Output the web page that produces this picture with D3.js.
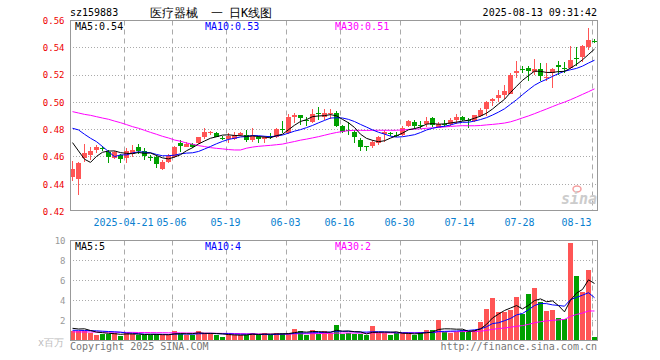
<!DOCTYPE html>
<html>
<head>
<meta charset="utf-8">
<script src="https://cdn.jsdelivr.net/npm/d3@7/dist/d3.min.js"></script>
<style>
body { margin: 0; background: #fff; }
text { font-family: "DejaVu Sans Mono", monospace; }
</style>
</head>
<body>
<svg id="chart"></svg>
<script>
var svg_width = 660
var svg_height = 360

// trading days shown
var dates = [
    "2025-04-08","2025-04-09","2025-04-10","2025-04-11","2025-04-14","2025-04-15","2025-04-16","2025-04-17","2025-04-18",
    "2025-04-21","2025-04-22","2025-04-23","2025-04-24","2025-04-25","2025-04-28","2025-04-29","2025-04-30",
    "2025-05-06","2025-05-07","2025-05-08","2025-05-09","2025-05-12","2025-05-13","2025-05-14","2025-05-15","2025-05-16",
    "2025-05-19","2025-05-20","2025-05-21","2025-05-22","2025-05-23","2025-05-26","2025-05-27","2025-05-28","2025-05-29","2025-05-30",
    "2025-06-03","2025-06-04","2025-06-05","2025-06-06","2025-06-09","2025-06-10","2025-06-11","2025-06-12","2025-06-13",
    "2025-06-16","2025-06-17","2025-06-18","2025-06-19","2025-06-20","2025-06-23","2025-06-24","2025-06-25","2025-06-26","2025-06-27",
    "2025-06-30","2025-07-01","2025-07-02","2025-07-03","2025-07-04","2025-07-07","2025-07-08","2025-07-09","2025-07-10","2025-07-11",
    "2025-07-14","2025-07-15","2025-07-16","2025-07-17","2025-07-18","2025-07-21","2025-07-22","2025-07-23","2025-07-24","2025-07-25",
    "2025-07-28","2025-07-29","2025-07-30","2025-07-31","2025-08-01","2025-08-04","2025-08-05","2025-08-06","2025-08-07","2025-08-08",
    "2025-08-11","2025-08-12","2025-08-13"
]

var opens = [
    .4456,.4441,.4595,.4615,.4651,.4665,.4639,.4590,.4615,.4590,.4622,.4676,.4646,.4600,.4598,.4510,.4566,.4602,
    .4705,.4676,.4695,.4700,.4749,.4778,.4773,.4738,.4729,.4729,.4761,.4761,.4724,.4744,.4729,.4751,.4744,.4807,
    .4773,.4890,.4907,.4873,.4859,.4922,.4890,.4912,.4924,.4827,.4800,.4785,.4724,.4680,.4683,.4700,.4768,.4775,
    .4763,.4761,.4827,.4859,.4836,.4839,.4883,.4815,.4841,.4844,.4868,.4893,.4874,.4861,.4897,.4951,.5008,.5032,
    .5057,.5064,.5216,.5247,.5253,.5221,.5245,.5184,.5216,.5277,.5254,.5253,.5328,.5335,.5407,.5451
]
var highs = [
    .4573,.4566,.4695,.4676,.4688,.4680,.4651,.4646,.4622,.4663,.4688,.4695,.4663,.4615,.4615,.4578,.4622,.4680,
    .4724,.4712,.4700,.4749,.4810,.4790,.4785,.4754,.4778,.4785,.4785,.4798,.4810,.4754,.4754,.4778,.4810,.4863,
    .4912,.4920,.4907,.4895,.4949,.4968,.4949,.4949,.4939,.4834,.4859,.4798,.4737,.4683,.4724,.4754,.4798,.4785,
    .4785,.4827,.4871,.4871,.4863,.4895,.4895,.4859,.4871,.4885,.4917,.4898,.4885,.4910,.4959,.5008,.5032,.5089,
    .5130,.5216,.5302,.5265,.5270,.5319,.5290,.5290,.5253,.5302,.5294,.5412,.5407,.5417,.5547,.5466
]
var lows = [
    .4427,.4322,.4566,.4578,.4632,.4646,.4554,.4583,.4559,.4559,.4602,.4622,.4578,.4571,.4517,.4505,.4559,.4595,
    .4639,.4671,.4663,.4695,.4729,.4761,.4744,.4724,.4700,.4724,.4754,.4712,.4712,.4702,.4705,.4729,.4737,.4773,
    .4768,.4846,.4834,.4827,.4846,.4873,.4871,.4876,.4822,.4778,.4761,.4700,.4646,.4646,.4663,.4688,.4712,.4754,
    .4744,.4754,.4822,.4802,.4802,.4822,.4822,.4810,.4817,.4829,.4844,.4861,.4812,.4853,.4893,.4897,.4971,.5000,
    .5025,.5064,.5179,.5216,.5155,.5204,.5155,.5155,.5106,.5204,.5216,.5241,.5265,.5294,.5383,.5437
]
var closes = [
    .4512,.4559,.4632,.4646,.4671,.4663,.4602,.4639,.4583,.4644,.4651,.4646,.4607,.4598,.4549,.4566,.4607,.4676,
    .4683,.4695,.4676,.4744,.4785,.4785,.4749,.4737,.4754,.4761,.4778,.4724,.4754,.4729,.4744,.4749,.4805,.4805,
    .4895,.4907,.4888,.4871,.4915,.4920,.4920,.4924,.4827,.4785,.4795,.4749,.4676,.4676,.4712,.4744,.4785,.4773,
    .4761,.4810,.4866,.4827,.4834,.4863,.4834,.4841,.4839,.4868,.4893,.4873,.4873,.4910,.4947,.5000,.5025,.5057,
    .5081,.5197,.5228,.5245,.5228,.5245,.5191,.5187,.5245,.5260,.5253,.5309,.5326,.5412,.5456,.5449
]
// volume, millions
var volumes = [
    .95,1.0,.95,.75,.55,.67,.67,.77,.43,.73,.67,.6,.55,.55,.67,.55,.55,1.0,
    .67,.6,.6,1.0,.73,.67,.5,.4,.67,.55,.55,.6,.8,.55,.73,.5,.73,.77,
    .73,1.2,.93,.55,1.1,.67,1.0,.77,1.55,.67,.77,.67,.67,.5,1.45,.8,.77,.6,
    .73,.73,.73,.5,.83,1.07,1.07,2.05,.83,.8,.9,1.1,.95,1.05,1.82,3.15,4.28,2.88,
    2.88,3.05,4.38,2.62,4.65,5.28,3.88,2.95,3.05,2.28,2.15,9.72,6.5,4.88,7.08,.33
]

// moving averages at the left edge depend on days before the window
var ma5Head = [.4705,.4644,.4583,.4560]
var ma10Head = [.4810,.4798,.4766,.4737,.4712,.4676,.4639,.4602,.4615]
var ma30Head = [
    .4932,.4922,.4912,.4905,.4895,.4885,.4876,.4863,.4851,.4837,.4822,.4810,.4795,.4780,.4766,
    .4751,.4739,.4724,.4715,.4702,.4693,.4683,.4676,.4668,.4663,.4659,.4654,.4651,.4651
]
var volMa5Head = [1.22,1.15,1.17,1.0]
var volMa10Head = [1.02,1.02,1.0,.98,.97,.93,.9,.87,.83]
var volMa30Head = [
    .86,.86,.85,.85,.84,.84,.83,.83,.82,.81,.81,.80,.80,.79,.78,
    .78,.77,.77,.76,.75,.75,.74,.73,.73,.72,.71,.71,.70,.69
]

var priceTicks = [0.42,0.44,0.46,0.48,0.50,0.52,0.54,0.56]
var volTicks = [2,4,6,8,10]
var dateTicks = ["2025-04-21","2025-05-06","2025-05-19","2025-06-03","2025-06-16","2025-06-30","2025-07-14","2025-07-28","2025-08-13"]

var RED = "#ff5555", GREEN = "#00a000", GRID = "#aaa", FRAME = "#999"

function movingAvg(values, n, head) {
    return values.map(function(v, i) {
        if (i < head.length) return head[i];
        return d3.mean(values.slice(i - n + 1, i + 1));
    });
}
var ma5 = movingAvg(closes, 5, ma5Head)
var ma10 = movingAvg(closes, 10, ma10Head)
var ma30 = movingAvg(closes, 30, ma30Head)
var vma5 = movingAvg(volumes, 5, volMa5Head)
var vma10 = movingAvg(volumes, 10, volMa10Head)
var vma30 = movingAvg(volumes, 30, volMa30Head)

var svg = d3.select("#chart")
    .attr("width", svg_width)
    .attr("height", svg_height)

// SCALES
var xScale = d3.scaleBand().domain(dates).range([70, 598])
var yScale = d3.scaleLinear().domain([0.42, 0.56]).range([211.5, 20.5])
var vScale = d3.scaleLinear().domain([0, 10]).range([340.5, 240.5])

function crisp(v) { return Math.floor(v) + 0.5; }

// GRIDS
function drawPanel(top, bottom, hTicks, scale) {
    svg.append("g").selectAll("line")
        .data(hTicks.filter(function(t) { return crisp(scale(t)) > top + 1 && crisp(scale(t)) < bottom - 1; }))
        .enter().append("line")
          .attr("x1", 70).attr("x2", 597)
          .attr("y1", function(d) { return crisp(scale(d)); })
          .attr("y2", function(d) { return crisp(scale(d)); })
          .attr("stroke", GRID)
          .attr("stroke-dasharray", "1,2");
    svg.append("g").selectAll("line")
        .data(dateTicks)
        .enter().append("line")
          .attr("x1", function(d) { return xScale(d) + 0.5; })
          .attr("x2", function(d) { return xScale(d) + 0.5; })
          .attr("y1", top).attr("y2", bottom)
          .attr("stroke", GRID)
          .attr("stroke-dasharray", "5,4");
}
drawPanel(20.5, 210.5, priceTicks, yScale)
drawPanel(240.5, 340.5, volTicks, vScale)

// CANDLES
var idx = d3.range(dates.length)
function isUp(i) { return closes[i] >= opens[i]; }

var candles = svg.append("g").selectAll("g")
    .data(idx)
    .enter().append("g")
      .attr("fill", function(i) { return isUp(i) ? RED : GREEN; })
candles.append("rect")
      .attr("x", function(i) { return xScale(dates[i]) + 2; })
      .attr("width", 1)
      .attr("y", function(i) { return Math.round(yScale(highs[i])); })
      .attr("height", function(i) { return Math.max(1, Math.round(yScale(lows[i])) - Math.round(yScale(highs[i]))); })
candles.append("rect")
      .attr("x", function(i) { return xScale(dates[i]); })
      .attr("width", 5)
      .attr("y", function(i) { return Math.round(yScale(Math.max(opens[i], closes[i]))); })
      .attr("height", function(i) {
          return Math.max(1, Math.round(yScale(Math.min(opens[i], closes[i]))) - Math.round(yScale(Math.max(opens[i], closes[i]))));
      })

// VOLUME BARS
svg.append("g").selectAll("rect")
    .data(idx)
    .enter().append("rect")
      .attr("x", function(i) { return xScale(dates[i]); })
      .attr("width", 5)
      .attr("y", function(i) { return Math.round(vScale(volumes[i])); })
      .attr("height", function(i) { return 341 - Math.round(vScale(volumes[i])); })
      .attr("fill", function(i) { return isUp(i) ? RED : GREEN; })

// MA LINES
function drawLine(values, scale, color) {
    var line = d3.line()
        .x(function(v, i) { return xScale(dates[i]) + 2.5; })
        .y(function(v) { return scale(v); });
    svg.append("path")
        .attr("d", line(values))
        .attr("fill", "none")
        .attr("stroke", color)
        .attr("stroke-width", 1);
}
drawLine(ma30, yScale, "#ff00ff")
drawLine(ma10, yScale, "#0000ff")
drawLine(ma5, yScale, "#000")
drawLine(vma30, vScale, "#ff00ff")
drawLine(vma10, vScale, "#0000ff")
drawLine(vma5, vScale, "#000")

// FRAMES
svg.append("rect").attr("x", 70.5).attr("y", 20.5).attr("width", 527).attr("height", 190)
    .attr("fill", "none").attr("stroke", FRAME)
svg.append("rect").attr("x", 70.5).attr("y", 240.5).attr("width", 527).attr("height", 100)
    .attr("fill", "none").attr("stroke", FRAME)

// AXES
var yAxis = d3.axisLeft(yScale).tickValues(priceTicks).tickFormat(d3.format(".2f")).tickSize(0).tickPadding(0)
svg.append("g")
    .attr("transform", "translate(64.5, 0)")
    .call(yAxis)
    .call(function(g) { g.select(".domain").remove(); })
    .selectAll("text")
      .attr("fill", "#e00")
      .attr("font-family", "DejaVu Sans Mono")
      .attr("font-size", 9)

var vAxis = d3.axisLeft(vScale).tickValues(volTicks).tickFormat(d3.format("d")).tickSize(0).tickPadding(0)
svg.append("g")
    .attr("transform", "translate(65.5, 0)")
    .call(vAxis)
    .call(function(g) { g.select(".domain").remove(); })
    .selectAll("text")
      .attr("fill", "#999")
      .attr("font-family", "DejaVu Sans Mono")
      .attr("font-size", 9)

svg.append("g").selectAll("text")
    .data(dateTicks)
    .enter().append("text")
      .attr("x", function(d) { return xScale(d) - 0.5; })
      .attr("y", 225.5)
      .attr("font-size", 10)
      .attr("fill", "#0a7fd0")
      .attr("text-anchor", "middle")
      .text(function(d, i) { return i === 0 ? d : d.slice(5); })
      .each(function(d) {
          var w = this.getComputedTextLength();
          if (xScale(d) + w / 2 > 592) {
              d3.select(this).attr("text-anchor", "end").attr("x", 591.5);
          }
      })

// TITLES & LEGENDS
svg.append("text").attr("x", 70).attr("y", 16).attr("font-size", 10).attr("fill", "#000").text("sz159883")
var title = svg.append("text").attr("y", 16.5).attr("font-size", 12)
    .attr("font-family", "Noto Sans CJK SC").attr("fill", "#000")
title.append("tspan").attr("x", 150).text("医疗器械")
title.append("tspan").attr("x", 211).text("一")
title.append("tspan").attr("x", 229).text("日K线图")
svg.append("text").attr("x", 597).attr("y", 16).attr("font-size", 10).attr("text-anchor", "end")
    .text("2025-08-13 09:31:42")

var last = dates.length - 1
var f2 = d3.format(".2f")
function legend(y, items) {
    svg.append("g").selectAll("text")
        .data(items)
        .enter().append("text")
          .attr("x", function(d) { return d.x; })
          .attr("y", y)
          .attr("font-size", 10)
          .attr("fill", function(d) { return d.color; })
          .text(function(d) { return d.label; });
}
legend(29.5, [
    {x: 75, color: "#000", label: "MA5:" + f2(ma5[last])},
    {x: 205, color: "#0000ff", label: "MA10:" + f2(ma10[last])},
    {x: 335, color: "#ff00ff", label: "MA30:" + f2(ma30[last])}
])
legend(250, [
    {x: 75, color: "#000", label: "MA5:" + Math.floor(vma5[last])},
    {x: 205, color: "#0000ff", label: "MA10:" + Math.floor(vma10[last])},
    {x: 335, color: "#ff00ff", label: "MA30:" + Math.floor(vma30[last])}
])

svg.append("text").attr("x", 64).attr("y", 345.5).attr("text-anchor", "end")
    .attr("font-size", 10).attr("font-family", "Noto Sans CJK SC").attr("fill", "#bbb").text("x百万")
svg.append("text").attr("x", 70).attr("y", 349.5).attr("font-size", 10).attr("fill", "#777")
    .text("Copyright 2025 SINA.COM")
svg.append("text").attr("x", 597).attr("y", 349.5).attr("font-size", 10).attr("fill", "#777")
    .attr("text-anchor", "end").text("http://finance.sina.com.cn")

// sina watermark
svg.append("ellipse").attr("cx", 577).attr("cy", 189).attr("rx", 4).attr("ry", 3)
    .attr("fill", "none").attr("stroke", "#f5a0a0").attr("stroke-width", 1.5)
svg.append("text").attr("x", 597).attr("y", 204).attr("text-anchor", "end")
    .attr("font-family", "Liberation Sans").attr("font-size", 15).attr("font-weight", "bold")
    .attr("font-style", "italic").attr("fill", "#ccc").text("sina")
</script>
</body>
</html>
